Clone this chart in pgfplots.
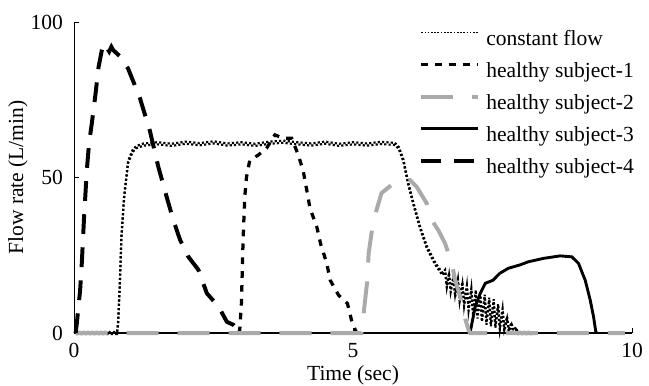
\documentclass[border=0pt]{standalone}
\usepackage{fontspec}
\setmainfont{Liberation Serif}
\usepackage{pgfplots}
\usepackage{pgfplotstable}
\pgfplotsset{compat=1.18}
\usetikzlibrary{calc}
\definecolor{gr}{RGB}{170,170,170}
\pgfplotstableread{
x y
0 0
0.77 0
0.79 3
0.82 15
0.85 31
0.90 44
0.97 55
1.05 58.5
1.12 59.8
1.25 60.6
1.5 61
1.75 60.5
2 61.2
2.25 60.7
2.5 61.3
2.75 60.6
3 61
3.25 60.5
3.5 61.2
3.75 61.5
4 61
4.25 60.6
4.5 61.2
4.75 60.5
5 61
5.25 60.6
5.5 61.1
5.75 60.8
5.82 59.5
5.9 55.6
5.99 48
6.08 41.7
6.2 34
6.32 27.7
6.47 22.4
6.6 19
6.65 20
6.68 15
6.72 19
6.75 13.5
6.8 18
6.83 12
6.88 17
6.91 10.5
6.96 16
6.99 9
7.04 15
7.07 7.5
7.12 14
7.15 6
7.2 13.5
7.23 5
7.28 12.5
7.31 4
7.36 12
7.39 3
7.44 11
7.47 2.5
7.52 10.5
7.55 2
7.6 9
7.63 1.5
7.68 7.5
7.71 1
7.76 5
7.79 0.8
7.84 3
7.87 0.5
7.92 1.5
7.95 0
8.2 0
}\constflow
\begin{document}
\begin{tikzpicture}
\begin{axis}[
  scale only axis, width=310bp, height=172.8bp,
  font=\fontsize{12}{14}\selectfont,
  xmin=0, xmax=10, ymin=0, ymax=100,
  axis lines=left, axis line style={-, line width=0.5bp},
  xtick={0,5,10}, ytick={0,50,100},
  tick align=inside, major tick length=2.8bp,
  tick style={black, line width=0.5bp},
  /pgf/number format/assume math mode=true,
  yticklabel style={inner sep=0pt, xshift=-6bp},
  xticklabel style={inner sep=0pt, yshift=-5.6bp},
  xlabel={Time (sec)}, ylabel={Flow rate (L/min)},
  every axis x label/.style={at={(axis description cs:0.5,-0.135)}, anchor=center},
  every axis y label/.style={at={(axis description cs:-0.1004,0.5)}, rotate=90, anchor=center},
  clip=false,
  legend cell align=left,
  legend image code/.code={\draw[#1] (0bp,3.9bp) -- (31.7bp,3.9bp);},
  legend style={at={(rel axis cs:1,1)}, anchor=north east, xshift=1bp, yshift=-3.8bp,
    draw=none, fill=none, inner sep=0pt, outer sep=0pt, row sep=5.8bp, column sep=3.3bp,
    nodes={inner sep=0pt, text height=9bp, text depth=3bp}},
]
\coordinate (sw) at (rel axis cs:0,0);
\coordinate (ne) at (rel axis cs:1,1);
% common black zero baseline of the black series
\addplot[black, line width=1.6bp, forget plot] coordinates {(0,0) (10,0)};
% constant flow (drawn as a checkered band)
\addplot[black, line width=1.2bp, dash pattern=on 1.2bp off 1.2bp, yshift=0.6bp,
  legend image post style={line width=0.7bp, dash pattern=on 0.9bp off 0.9bp, yshift=-0.6bp}] table {\constflow};
\addlegendentry{constant flow}
\addplot[black, line width=1.2bp, dash pattern=on 1.2bp off 1.2bp, dash phase=1.2bp, yshift=-0.6bp, forget plot] table {\constflow};
% subject 1
\addplot[black, line width=1.8bp, dash pattern=on 3.7bp off 4bp] coordinates {
(2.95,0) (2.97,1) (3.0,9.5) (3.03,30) (3.06,43.8) (3.09,50) (3.15,55.6) (3.30,57.2) (3.45,59.4)
(3.6,63.7) (3.75,62.6) (3.9,62.6) (4.02,57.2) (4.11,51.9) (4.17,46) (4.23,40) (4.35,34.2) (4.42,28.6)
(4.53,22.4) (4.59,17) (4.74,12.2) (4.90,9.5) (4.98,3.6) (5.04,1) (5.07,0)
};
\addlegendentry{healthy subject-1}
% subject 3 (drawn before subject 2 so that the grey dashes lie on top)
\addplot[black, line width=1.6bp, forget plot] coordinates {
(7.08,0) (7.10,0.4) (7.14,4) (7.19,8.5) (7.28,12.8) (7.37,16) (7.51,17) (7.63,19.2) (7.78,20.8)
(7.99,21.9) (8.14,22.9) (8.41,24) (8.71,24.8) (8.92,24.5) (9.04,22.4) (9.16,17) (9.25,10.6) (9.31,5.2)
(9.35,0.4) (9.37,0)
};
% subject 2
\addplot[gr, line width=2.2bp, dash pattern=on 17.8bp off 10.5bp] coordinates {
(0.03,0) (5.15,0) (5.19,6.3) (5.25,16) (5.28,25.6) (5.33,32) (5.42,39.5) (5.51,45) (5.69,47.6)
(5.87,49.2) (6.02,49.2) (6.14,47) (6.32,41.7) (6.41,36.3) (6.53,33) (6.65,28.8) (6.77,22.4) (6.83,17)
(6.92,11.7) (7.0,5.2) (7.07,1) (7.1,0) (9.87,0)
};
\addlegendentry{healthy subject-2}
% legend entry for subject 3
\addlegendimage{black, line width=1.6bp}
\addlegendentry{healthy subject-3}
% subject 4
\addplot[black, line width=2.2bp, dash pattern=on 11bp off 7.4bp] coordinates {
(0.03,0) (0.05,3) (0.11,13.8) (0.14,22.5) (0.18,37) (0.23,52.4) (0.27,61) (0.32,67.5) (0.38,76)
(0.44,85.5) (0.50,91) (0.53,93) (0.58,92) (0.63,90.5) (0.67,92) (0.70,91) (0.82,89) (0.97,85)
(1.18,75.6) (1.36,65) (1.51,53.5) (1.66,43.8) (1.78,36.3) (1.90,30) (2.05,24.5) (2.23,20.3) (2.38,12.8)
(2.59,8.5) (2.74,3.6) (2.86,2.6) (2.94,1) (2.98,0)
};
\addlegendentry{healthy subject-4}
\end{axis}
\pgfresetboundingbox
\path[use as bounding box] ($(sw)+(-41.1bp,-28.9bp)$) rectangle ($(ne)+(9.4bp,12.2bp)$);
\end{tikzpicture}
\end{document}
